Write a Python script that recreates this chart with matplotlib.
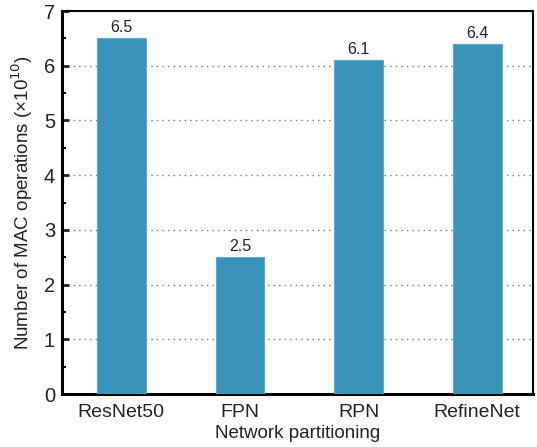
import matplotlib
matplotlib.use("Agg")
import matplotlib.pyplot as plt
from matplotlib.ticker import MultipleLocator

categories = ["ResNet50", "FPN", "RPN", "RefineNet"]
values = [6.5, 2.5, 6.1, 6.4]
value_labels = ["6.5", "2.5", "6.1", "6.4"]

plt.rcParams['font.family'] = ['Liberation Sans', 'DejaVu Sans']

fig = plt.figure(figsize=(5.37, 4.47), dpi=100)
ax = fig.add_axes([62/537, 1-394/447, (533-62)/537, (394-11)/447])

x = range(len(categories))
bars = ax.bar(x, values, width=0.41, color="#3a93ba", edgecolor="#5aaccf", linewidth=0.8, zorder=3)
for xi, v, lab in zip(x, values, value_labels):
    ax.text(xi, v + 0.06, lab, ha="center", va="bottom", fontsize=11.5, color="#222222")

ax.set_xlim(-0.5, 3.47)
ax.set_ylim(0, 7)
ax.set_xticks(list(x))
ax.set_xticklabels(categories, fontsize=14, color="#222222")
ax.yaxis.set_major_locator(MultipleLocator(1))
ax.yaxis.set_minor_locator(MultipleLocator(0.5))
ax.tick_params(axis="y", which="major", direction="in", length=5, width=2, labelsize=14.5, colors="#222222", pad=5)
ax.tick_params(axis="y", which="minor", direction="in", length=3, width=1.5)
ax.tick_params(axis="x", length=0, pad=7)
ax.grid(axis="y", linestyle=(0, (1, 3)), color="#777777", linewidth=1.0, zorder=0)

for s in ["left", "bottom"]:
    ax.spines[s].set_linewidth(2.2)
for s in ["top", "right"]:
    ax.spines[s].set_linewidth(1.5)

ax.set_xlabel("Network partitioning", fontsize=13.5, color="#222222", labelpad=3)
ax.set_ylabel("Number of MAC operations (×10$^{10}$)", fontsize=13.5, color="#222222", labelpad=6)

fig.savefig("out.png", dpi=100)
